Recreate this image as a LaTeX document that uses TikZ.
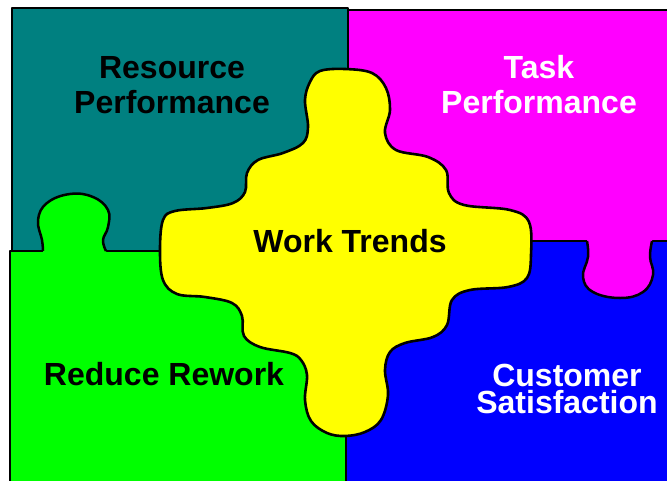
\documentclass[tikz,border=0pt]{standalone}
\usepackage{fontspec}
\setsansfont{Liberation Sans}
\usepackage{tikz}
\usetikzlibrary{positioning}

\definecolor{pzteal}{RGB}{0,128,128}
\definecolor{pzmagenta}{RGB}{255,0,255}
\definecolor{pzgreen}{RGB}{0,255,0}
\definecolor{pzblue}{RGB}{0,0,255}
\definecolor{pzyellow}{RGB}{255,255,0}

\begin{document}
\begin{tikzpicture}[x=1pt,y=-1pt,
  piece/.style={draw=black,line width=2pt,line join=round},
  txt/.style={font=\sffamily\bfseries\fontsize{32}{35}\selectfont,align=center,inner sep=0pt}]
\useasboundingbox (0,0) rectangle (667,480);
\clip (0,0) rectangle (667,480);
% the four corner pieces
\filldraw[piece,fill=pzteal] (12,8) rectangle (348,251);
\filldraw[piece,fill=pzmagenta] (348,10) rectangle (690,241);
\filldraw[piece,fill=pzgreen] (10,251) rectangle (346,500);
\filldraw[piece,fill=pzblue] (346,241) rectangle (690,500);
% green knob pushing up into the teal piece
\fill[pzgreen] (43,254) -- plot[smooth,tension=0.7] coordinates {(43,251) (42,240) (38,220) (47,203) (70,194) (93,197) (108,210) (108,227) (103,240) (106,251)} -- (106,254) -- cycle;
\draw[piece,line width=2.5pt] plot[smooth,tension=0.7] coordinates {(43,251) (42,240) (38,220) (47,203) (70,194) (93,197) (108,210) (108,227) (103,240) (106,251)};
% magenta knob hanging down into the blue piece
\fill[pzmagenta] (587,238) -- plot[smooth,tension=0.7] coordinates {(587,241) (588,257) (583,277) (593,292) (620,298) (643,292) (653,275) (650,257) (652,241)} -- (652,238) -- cycle;
\draw[piece,line width=2.5pt] plot[smooth,tension=0.7] coordinates {(587,241) (588,257) (583,277) (593,292) (620,298) (643,292) (653,275) (650,257) (652,241)};
% centre piece
\filldraw[piece,line width=2.6pt,fill=pzyellow] plot[smooth cycle,tension=0.6] coordinates {
  (320,71) (345,69) (372,73) (386,88) (390,110) (385,133) (396,150) (428,157)
  (446,170) (449,193) (464,205) (510,210) (529,222) (531,255) (527,278) (508,287)
  (470,290) (452,300) (447,325) (433,337) (405,343) (390,352) (385,370) (388,395)
  (381,420) (365,432) (345,436) (327,433) (311,421) (305,400) (307,375) (301,360)
  (290,353) (260,347) (244,336) (242,316) (232,303) (205,297) (177,294) (163,280)
  (160,250) (163,220) (175,211) (207,208) (233,203) (245,192) (247,173) (258,160)
  (283,153) (303,143) (308,127) (305,100) (310,82)};
% labels
\node[txt] (resperf) at (172,85) {Resource\\Performance};
\node[txt,text=white] (taskperf) at (539,85) {Task\\Performance};
\node[txt] (trends) at (350,241) {Work Trends};
\node[txt] (rework) at (164,374) {Reduce Rework};
\node[txt,text=white,font=\sffamily\bfseries\fontsize{32}{27}\selectfont] (custsat) at (567,389) {Customer\\Satisfaction};
\end{tikzpicture}
\end{document}
